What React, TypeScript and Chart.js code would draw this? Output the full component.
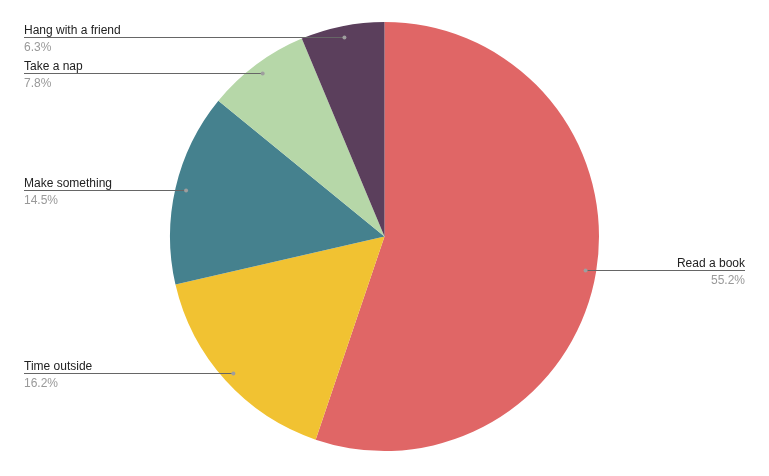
import React, { useEffect, useRef } from "react";
import { Chart, registerables } from "chart.js";

Chart.register(...registerables);

const categories = ["Read a book", "Time outside", "Make something", "Take a nap", "Hang with a friend"];
const values = [55.2, 16.2, 14.5, 7.8, 6.3];
const percentLabels = ["55.2%", "16.2%", "14.5%", "7.8%", "6.3%"];
const colors = ["#e06666", "#f1c232", "#45818e", "#b6d7a8", "#5b3f5c"];

const leaderPlugin = {
  id: "leaderLabels",
  afterDraw(chart: any) {
    const ctx = chart.ctx;
    const meta = chart.getDatasetMeta(0);
    ctx.save();
    meta.data.forEach((arc: any, i: number) => {
      const p = arc.getProps(["x", "y", "startAngle", "endAngle", "outerRadius"], true);
      const mid = (p.startAngle + p.endAngle) / 2;
      const r = p.outerRadius * 0.95;
      const dx = p.x + r * Math.cos(mid);
      const dy = Math.round(p.y + r * Math.sin(mid)) + 0.5;
      const left = dx < p.x;
      const endX = left ? 24 : 745;
      ctx.strokeStyle = "#666666";
      ctx.lineWidth = 1;
      ctx.beginPath();
      ctx.moveTo(endX, dy);
      ctx.lineTo(dx, dy);
      ctx.stroke();
      ctx.fillStyle = "#9e9e9e";
      ctx.beginPath();
      ctx.arc(dx, dy, 2, 0, Math.PI * 2);
      ctx.fill();
      ctx.font = '12px "Liberation Sans", Arial, sans-serif';
      ctx.textAlign = left ? "left" : "right";
      ctx.textBaseline = "alphabetic";
      ctx.fillStyle = "#222222";
      ctx.fillText(categories[i], endX, dy - 4);
      ctx.fillStyle = "#999999";
      ctx.fillText(percentLabels[i], endX, dy + 13);
    });
    ctx.restore();
  },
};

export default function App() {
  const ref = useRef<HTMLCanvasElement>(null);
  useEffect(() => {
    document.body.style.margin = "0";
    const chart = new Chart(ref.current!, {
      type: "pie",
      data: {
        labels: categories,
        datasets: [
          {
            data: values,
            backgroundColor: colors,
            borderWidth: 0,
          },
        ],
      },
      options: {
        responsive: false,
        animation: false,
        layout: { padding: { top: 22, bottom: 25, left: 0, right: 0 } },
        plugins: {
          legend: { display: false },
          tooltip: { enabled: false },
        },
      },
      plugins: [leaderPlugin],
    });
    return () => chart.destroy();
  }, []);
  return (
    <div style={{ position: "fixed", left: 0, top: 0, width: 769, height: 476, background: "#fff" }}>
      <canvas ref={ref} width={769} height={476} style={{ width: 769, height: 476 }} />
    </div>
  );
}
